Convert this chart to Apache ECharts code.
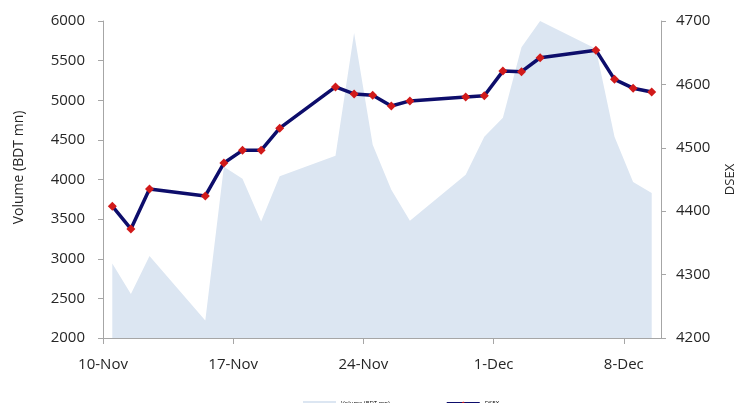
<!DOCTYPE html>
<html>
<head>
<meta charset="utf-8">
<script src="https://cdn.jsdelivr.net/npm/echarts@6/dist/echarts.min.js"></script>
<style>
  html, body { margin: 0; padding: 0; background: #fff; }
  #main { width: 748px; height: 403px; }
</style>
</head>
<body>
<div id="main"></div>
<script>
  // trading days
  var dates = ['2013-11-10', '2013-11-11', '2013-11-12', '2013-11-15', '2013-11-16', '2013-11-17',
    '2013-11-18', '2013-11-19', '2013-11-22', '2013-11-23', '2013-11-24', '2013-11-25',
    '2013-11-26', '2013-11-29', '2013-11-30', '2013-12-01', '2013-12-02', '2013-12-03',
    '2013-12-06', '2013-12-07', '2013-12-08', '2013-12-09'];
  var volume = [2940, 2555, 3035, 2220, 4160, 4010, 3470, 4040, 4300, 5850, 4440, 3870,
    3480, 4060, 4540, 4780, 5670, 6000, 5650, 4540, 3970, 3830];
  var dsex = [4408, 4372, 4435, 4424, 4476, 4496, 4496, 4531, 4596, 4585, 4583, 4566,
    4574, 4580, 4582, 4621, 4620, 4642, 4654, 4608, 4594, 4588];
  var tickDays = [0, 7, 14, 21, 28];
  var monthNames = ['Jan', 'Feb', 'Mar', 'Apr', 'May', 'Jun', 'Jul', 'Aug', 'Sep', 'Oct', 'Nov', 'Dec'];

  var start = Date.UTC(2013, 10, 10);
  var DAY = 86400000;
  function dayOf(s) {
    var p = s.split('-');
    return (Date.UTC(+p[0], +p[1] - 1, +p[2]) - start) / DAY;
  }
  function dayLabel(d) {
    var t = new Date(start + d * DAY);
    return t.getUTCDate() + '-' + monthNames[t.getUTCMonth()];
  }
  function plain(v) { return String(v); }

  var volData = [], dsexData = [];
  for (var i = 0; i < dates.length; i++) {
    var x = dayOf(dates[i]) + 0.5; // excel plots in the middle of the day
    volData.push([x, volume[i]]);
    dsexData.push([x, dsex[i]]);
  }

  var txt = '#262626';
  var axisLine = { show: true, lineStyle: { color: '#a6a6a6', width: 1 } };
  var chart = echarts.init(document.getElementById('main'));
  chart.setOption({
    animation: false,
    textStyle: { fontFamily: 'Open Sans' },
    grid: { left: 103, right: 87, top: 21, bottom: 65 },
    legend: {
      left: 298, top: 395,
      itemWidth: 33, itemHeight: 4, itemGap: 56,
      textStyle: { fontSize: 6, color: '#000' },
      data: [{ name: 'Volume (BDT mn)', icon: 'rect' }, { name: 'DSEX' }]
    },
    xAxis: {
      type: 'value', min: 0, max: 30,
      axisLine: axisLine,
      splitLine: { show: false },
      axisTick: { show: true, length: 6, customValues: tickDays, lineStyle: { color: '#a6a6a6' } },
      axisLabel: { customValues: tickDays, formatter: dayLabel, fontSize: 15, color: txt, margin: 19 }
    },
    yAxis: [{
      type: 'value', min: 2000, max: 6000, interval: 500,
      name: 'Volume (BDT mn)', nameLocation: 'middle', nameGap: 77, nameRotate: 90,
      nameTextStyle: { fontSize: 14, color: txt, padding: [0, 0, 0, 24] },
      axisLine: axisLine,
      axisTick: { show: true, length: 5, lineStyle: { color: '#a6a6a6' } },
      splitLine: { show: false },
      axisLabel: { fontSize: 15, color: txt, margin: 18, formatter: plain }
    }, {
      type: 'value', min: 4200, max: 4700, interval: 100,
      name: 'DSEX', nameLocation: 'middle', nameGap: 63, nameRotate: 90,
      nameTextStyle: { fontSize: 13, color: txt },
      axisLine: axisLine,
      axisTick: { show: true, length: 5, lineStyle: { color: '#a6a6a6' } },
      splitLine: { show: false },
      axisLabel: { fontSize: 15, color: txt, margin: 15, formatter: plain }
    }],
    series: [{
      name: 'Volume (BDT mn)', type: 'line', yAxisIndex: 0,
      data: volData, symbol: 'none',
      color: '#dce6f2',
      lineStyle: { width: 0 },
      areaStyle: { color: '#dce6f2', opacity: 1 }
    }, {
      name: 'DSEX', type: 'line', yAxisIndex: 1,
      data: dsexData,
      color: '#0d0d6b',
      lineStyle: { color: '#0d0d6b', width: 3.5 },
      symbol: 'diamond', symbolSize: 9,
      itemStyle: { color: '#d11a1a', borderWidth: 0 }
    }]
  });
</script>
</body>
</html>
